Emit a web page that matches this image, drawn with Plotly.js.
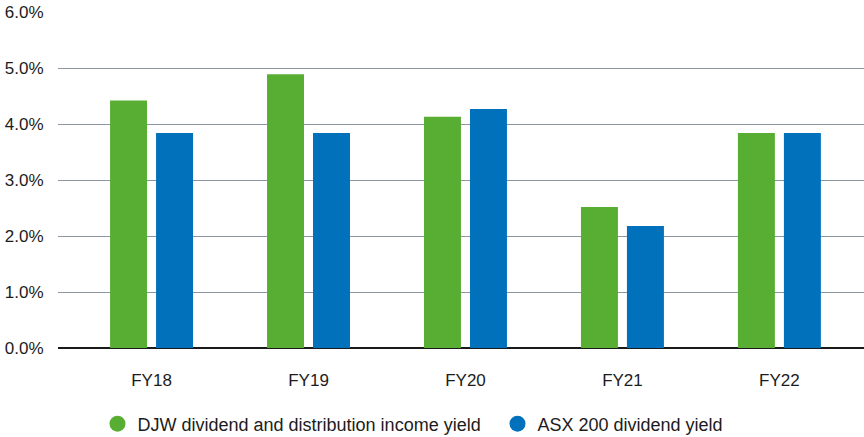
<!DOCTYPE html>
<html>
<head>
<meta charset="utf-8">
<script src="https://cdn.plot.ly/plotly-3.0.1.min.js"></script>
<style>
  html, body { margin: 0; padding: 0; background: #ffffff; }
  #chart { width: 864px; height: 437px; }
</style>
</head>
<body>
<div id="chart"></div>
<script>
// Financial years on the category axis
var years = ['FY18', 'FY19', 'FY20', 'FY21', 'FY22'];

// Yields, in percent
var djwYield = [4.42, 4.89, 4.13, 2.52, 3.84];
var asxYield = [3.84, 3.84, 4.27, 2.18, 3.84];

// Series names shown in the legend
var djwName = 'DJW dividend and distribution income yield';
var asxName = 'ASX 200 dividend yield';

var green = '#58ae33';
var blue = '#0071ba';
var textColor = '#1c1c1c';
var fontFamily = '"Liberation Sans", Arial, Helvetica, sans-serif';

var traces = [
  {
    type: 'bar', x: years, y: djwYield, name: djwName,
    marker: { color: green }, showlegend: false, hoverinfo: 'x+y'
  },
  {
    type: 'bar', x: years, y: asxYield, name: asxName,
    marker: { color: blue }, showlegend: false, hoverinfo: 'x+y'
  },
  // Round legend keys: marker traces on a hidden overlay axis
  {
    type: 'scatter', mode: 'markers', x: years, y: djwYield, name: djwName,
    yaxis: 'y2', marker: { color: green, size: 18 }, hoverinfo: 'skip'
  },
  {
    type: 'scatter', mode: 'markers', x: years, y: asxYield, name: asxName,
    yaxis: 'y2', marker: { color: blue, size: 18 }, hoverinfo: 'skip'
  }
];

var layout = {
  width: 864,
  height: 437,
  margin: { l: 58, r: 0, t: 12, b: 89, autoexpand: false },
  paper_bgcolor: '#ffffff',
  plot_bgcolor: '#ffffff',
  font: { family: fontFamily, size: 17, color: textColor },
  barmode: 'group',
  bargap: 0.414,
  bargroupgap: 0.196,
  showlegend: true,
  xaxis: {
    type: 'category',
    range: [-0.596, 4.539],
    showgrid: false,
    showline: false,
    zeroline: false,
    ticks: 'outside',
    ticklen: 17,
    tickcolor: 'rgba(0,0,0,0)',
    tickfont: { family: fontFamily, size: 17, color: textColor },
    fixedrange: true
  },
  yaxis: {
    range: [0, 6],
    dtick: 1,
    tick0: 0,
    tickformat: '.1f',
    ticksuffix: '%',
    showgrid: true,
    gridcolor: '#8a96a2',
    gridwidth: 1,
    zeroline: true,
    zerolinecolor: '#1a1a1a',
    zerolinewidth: 1.5,
    showline: false,
    ticks: 'outside',
    ticklen: 10,
    tickcolor: 'rgba(0,0,0,0)',
    tickfont: { family: fontFamily, size: 17, color: textColor },
    fixedrange: true
  },
  yaxis2: {
    overlaying: 'y',
    visible: false,
    range: [100, 101],
    fixedrange: true
  },
  legend: {
    orientation: 'h',
    x: 0.049,
    xanchor: 'left',
    y: -0.226,
    yanchor: 'middle',
    entrywidth: 355,
    entrywidthmode: 'pixels',
    font: { family: fontFamily, size: 18, color: textColor },
    bgcolor: 'rgba(0,0,0,0)',
    borderwidth: 0
  }
};

Plotly.newPlot('chart', traces, layout, { displayModeBar: false, staticPlot: true });
</script>
</body>
</html>
